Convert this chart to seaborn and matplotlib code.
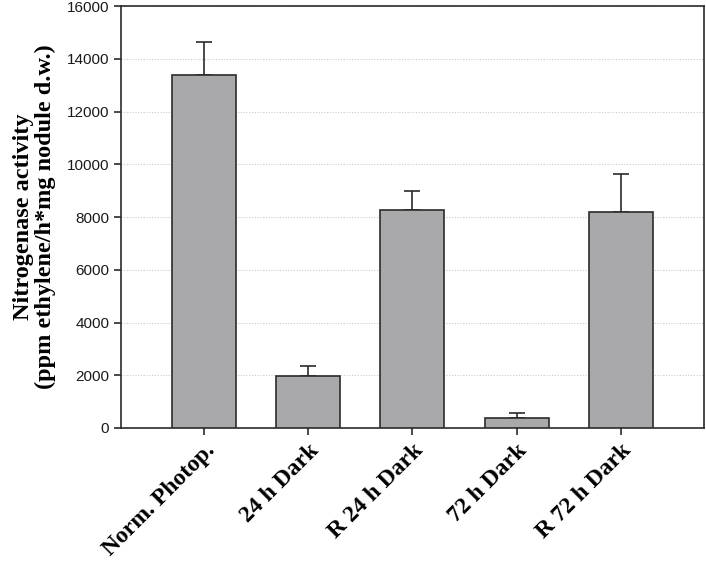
import numpy as np
import pandas as pd
import seaborn as sns
import matplotlib.pyplot as plt

categories = ["Norm. Photop.", "24 h Dark", "R 24 h Dark", "72 h Dark", "R 72 h Dark"]
activity = [13400, 1960, 8280, 390, 8200]
err_up = [1230, 400, 700, 170, 1450]

df = pd.DataFrame({"group": categories, "activity": activity})

sns.set_style("ticks")
plt.rcParams["font.family"] = ["Liberation Sans", "DejaVu Sans"]
plt.rcParams["text.color"] = "black"
plt.rcParams["axes.labelcolor"] = "black"

fig = plt.figure(figsize=(7.06, 5.65), dpi=100)
ax = fig.add_axes([0.1714, 0.2425, 0.8256, 0.7465])

sns.barplot(data=df, x="group", y="activity", color="#a9a9ac", saturation=1,
            width=0.615, edgecolor="#2b2b2b", linewidth=1.2, ax=ax, zorder=3)
ax.errorbar(np.arange(len(categories)), activity, yerr=[np.zeros(len(err_up)), err_up],
            fmt="none", ecolor="#2b2b2b", elinewidth=1.2, capsize=6, capthick=1.2, zorder=2)

ax.set_ylim(0, 16000)
ax.set_xlim(-0.8, 4.8)
ax.set_yticks(range(0, 16001, 2000))
ax.yaxis.grid(True, linestyle=(0, (1, 1.5)), color="#cccccc", linewidth=0.8, zorder=0)
ax.set_axisbelow(True)

for s in ax.spines.values():
    s.set_color("#2b2b2b")
    s.set_linewidth(1.2)
ax.tick_params(axis="both", direction="out", length=5, width=1.2, color="#2b2b2b",
               labelsize=11, labelcolor="#1a1a1a")

ax.set_xlabel("")
ax.set_xticks(range(len(categories)))
ax.set_xticklabels(categories, rotation=45, ha="right", rotation_mode="anchor",
                   family="Liberation Serif", fontweight="bold", fontsize=17, color="black")
ax.set_ylabel("Nitrogenase activity\n(ppm ethylene/h*mg nodule d.w.)",
              family="Liberation Serif", fontweight="bold", fontsize=17.5, linespacing=1.0, labelpad=8)

fig.savefig("out.png", dpi=100)
